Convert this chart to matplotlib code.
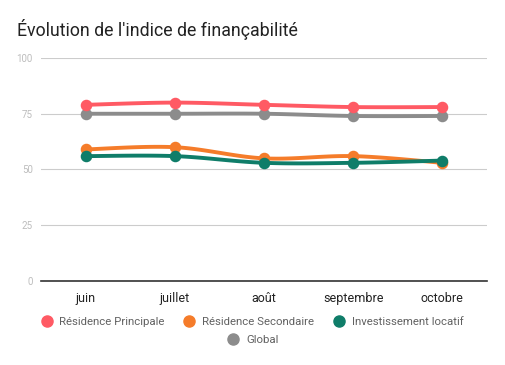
import numpy as np
import matplotlib
matplotlib.use("Agg")
import matplotlib.pyplot as plt
from matplotlib.lines import Line2D

plt.rcParams['font.family'] = ['Roboto', 'DejaVu Sans']

categories = ["juin", "juillet", "août", "septembre", "octobre"]
residence_principale = [79, 80, 79, 78, 78]
residence_secondaire = [59, 60, 55, 56, 53]
investissement_locatif = [56, 56, 53, 53, 54]
global_idx = [75, 75, 75, 74, 74]
y_ticks = [0, 25, 50, 75, 100]

series = [
    ("Résidence Principale", residence_principale, "#FF5A64"),
    ("Résidence Secondaire", residence_secondaire, "#F57C2A"),
    ("Investissement locatif", investissement_locatif, "#0F7D69"),
    ("Global", global_idx, "#8C8C8C"),
]


def smooth(xs, ys, n=30, t=0.5):
    xs = np.asarray(xs, float); ys = np.asarray(ys, float)
    px, py = [], []
    m = len(xs)
    for i in range(m - 1):
        x0, y0 = xs[max(i - 1, 0)], ys[max(i - 1, 0)]
        x1, y1 = xs[i], ys[i]
        x2, y2 = xs[i + 1], ys[i + 1]
        x3, y3 = xs[min(i + 2, m - 1)], ys[min(i + 2, m - 1)]
        c1x, c1y = x1 + (x2 - x0) * t / 3, y1 + (y2 - y0) * t / 3
        c2x, c2y = x2 - (x3 - x1) * t / 3, y2 - (y3 - y1) * t / 3
        s = np.linspace(0, 1, n)
        bx = (1-s)**3*x1 + 3*(1-s)**2*s*c1x + 3*(1-s)*s**2*c2x + s**3*x2
        by = (1-s)**3*y1 + 3*(1-s)**2*s*c1y + 3*(1-s)*s**2*c2y + s**3*y2
        px.extend(bx); py.extend(by)
    return np.array(px), np.array(py)


fig = plt.figure(figsize=(5.05, 3.65), dpi=100)
ax = fig.add_axes([41/505, 1-281/365, 446/505, 223/365])

x = np.arange(len(categories))
order = [3, 0, 1, 2]
for k in order:
    name, vals, col = series[k]
    sx, sy = smooth(x, vals)
    ax.plot(sx, sy, color=col, lw=2.8, solid_capstyle='round', zorder=3)
    ax.plot(x, vals, 'o', color=col, ms=7.3, zorder=4)

ax.set_xlim(-0.5, len(categories) - 0.5)
ax.set_ylim(0, 100)
ax.set_yticks(y_ticks)
ax.set_yticklabels([str(v) for v in y_ticks])
ax.set_xticks(x)
ax.set_xticklabels(categories)
ax.tick_params(axis='y', length=0, pad=6, labelsize=7, labelcolor="#BDBDBD")
ax.tick_params(axis='x', length=0, pad=8, labelsize=9, labelcolor="#222222")
ax.grid(axis='y', color="#CCCCCC", lw=0.8)
ax.set_axisbelow(True)
for s in ['top', 'right', 'left']:
    ax.spines[s].set_visible(False)
ax.spines['bottom'].set_color("#333333")
ax.spines['bottom'].set_linewidth(1.2)
ax.spines['bottom'].set_zorder(2)

fig.text(17/505, 1-30/365, "Évolution de l'indice de finançabilité",
         fontsize=12.8, color="#222222", va='center', ha='left')

def handle(col):
    return Line2D([], [], marker='o', ls='none', color=col, ms=8)

leg1 = fig.legend([handle(c) for _, _, c in series[:3]], [n for n, _, _ in series[:3]],
                  loc='center', bbox_to_anchor=(252/505, 1-322/365), ncol=3, frameon=False,
                  fontsize=8.2, labelcolor="#616161", handletextpad=0.6, columnspacing=1.7,
                  handlelength=1.0, borderpad=0)
leg2 = fig.legend([handle(series[3][2])], [series[3][0]],
                  loc='center', bbox_to_anchor=(253/505, 1-340/365), frameon=False,
                  fontsize=8.2, labelcolor="#616161", handletextpad=0.6,
                  handlelength=1.0, borderpad=0)

fig.savefig("out.png", dpi=100)
